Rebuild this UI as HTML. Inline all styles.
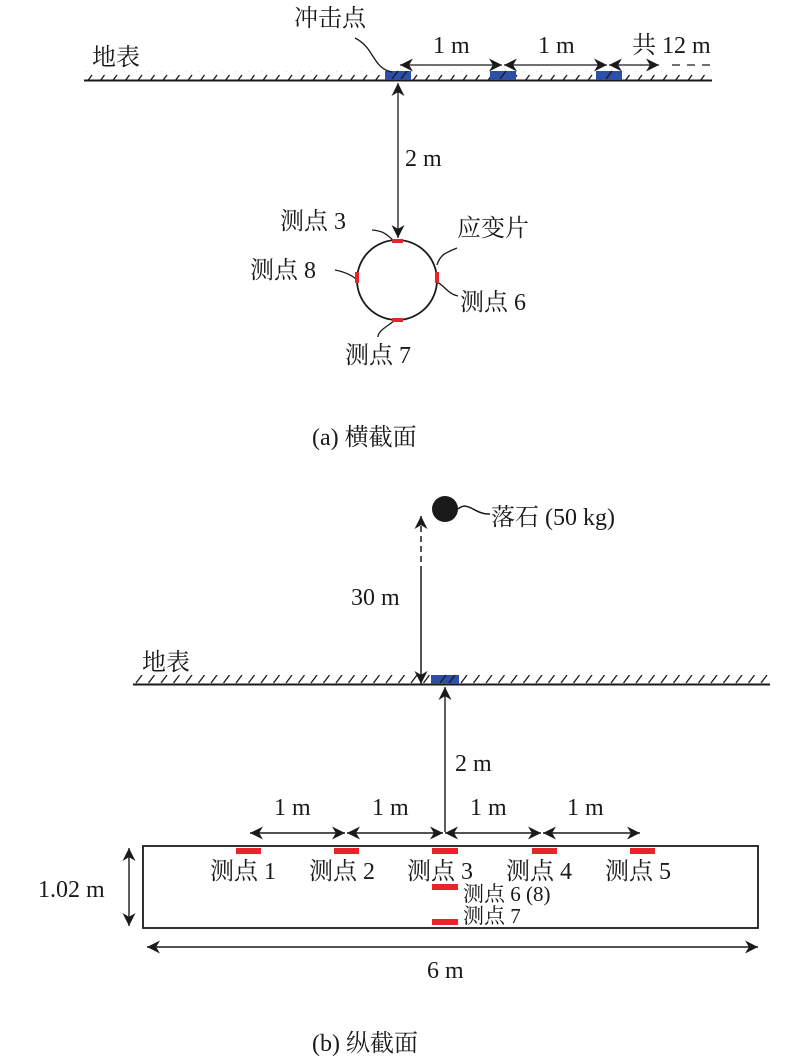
<!DOCTYPE html>
<html><head><meta charset="utf-8"><style>
html,body{margin:0;padding:0;background:#fff;}
svg{display:block;}
text{font-family:"Liberation Serif","Noto Serif CJK SC",serif;font-size:24px;fill:#1a1a1a;}
</style></head><body>
<svg width="800" height="1063" viewBox="0 0 800 1063" xmlns="http://www.w3.org/2000/svg">
<defs>
<marker id="ah" viewBox="0 0 10 10" refX="10" refY="5" markerWidth="13" markerHeight="13" orient="auto-start-reverse" markerUnits="userSpaceOnUse">
<path d="M0,0 L10,5 L0,10 L3,5 z" fill="#1a1a1a"/></marker>
<pattern id="hatch" x="84" y="0" width="12.5" height="12" patternUnits="userSpaceOnUse">
<line x1="2" y1="11" x2="8" y2="3" stroke="#1a1a1a" stroke-width="1.3"/></pattern>
</defs>
<g stroke="#1a1a1a" stroke-width="1.6" fill="none">
<rect x="84" y="71" width="628" height="9" fill="url(#hatch)" stroke="none"/>
<line x1="84" y1="80.5" x2="712" y2="80.5" stroke-width="2"/>
</g>
<rect x="385" y="71" width="26" height="9" fill="#2e4fa8"/>
<rect x="490" y="71" width="26" height="9" fill="#2e4fa8"/>
<rect x="596" y="71" width="26" height="9" fill="#2e4fa8"/>
<g stroke="#1a1a1a" stroke-width="1.3" fill="none">
<line x1="392" y1="79" x2="398" y2="71"/>
<line x1="401" y1="79" x2="407" y2="71"/>
<line x1="500" y1="79" x2="506" y2="71"/>
<line x1="606" y1="79" x2="612" y2="71"/>
<line x1="400" y1="65" x2="502" y2="65" marker-start="url(#ah)" marker-end="url(#ah)"/>
<line x1="504" y1="65" x2="607" y2="65" marker-start="url(#ah)" marker-end="url(#ah)"/>
<line x1="609" y1="65" x2="659" y2="65" marker-start="url(#ah)" marker-end="url(#ah)"/>
<line x1="672" y1="65" x2="712" y2="65" stroke-dasharray="8,7"/>
<path d="M355,38 C375,48 372,68 392,72"/>
<line x1="398" y1="83" x2="398" y2="238" marker-start="url(#ah)" marker-end="url(#ah)"/>
<circle cx="397" cy="280" r="40" stroke-width="1.8"/>
<path d="M372,230 C385,231 388,236 393,240"/>
<path d="M335,270 C345,272 352,275 357,280"/>
<path d="M457,248 C445,253 440,255 437,265"/>
<path d="M437,282 C445,286 448,294 458,296"/>
<path d="M378,337 C378,330 390,325 395,320"/>
</g>
<rect x="392" y="239" width="11" height="4" fill="#e8232a"/>
<rect x="355" y="272" width="4" height="11" fill="#e8232a"/>
<rect x="435" y="272" width="4" height="11" fill="#e8232a"/>
<rect x="392" y="318" width="11" height="4" fill="#e8232a"/>
<text x="92" y="65">地表</text>
<text x="294" y="26">冲击点</text>
<text x="433" y="53">1 m</text>
<text x="538" y="53">1 m</text>
<text x="632" y="53">共 12 m</text>
<text x="405" y="166">2 m</text>
<text x="280" y="229">测点 3</text>
<text x="457" y="236">应变片</text>
<text x="250" y="278">测点 8</text>
<text x="460" y="310">测点 6</text>
<text x="345" y="363">测点 7</text>
<text x="312" y="445">(a) 横截面</text>

<circle cx="445" cy="509" r="13" fill="#1a1a1a"/>
<g stroke="#1a1a1a" stroke-width="1.5" fill="none">
<path d="M458,509 C468,500 475,515 490,514"/>
<line x1="421" y1="516" x2="421" y2="570" stroke-dasharray="6,4" marker-start="url(#ah)"/>
<line x1="421" y1="570" x2="421" y2="684" marker-end="url(#ah)"/>
<rect x="133" y="675" width="637" height="9" fill="url(#hatch)" stroke="none"/>
<line x1="133" y1="684.5" x2="770" y2="684.5" stroke-width="2"/>
</g>
<rect x="431" y="675" width="28" height="9" fill="#2e4fa8"/>
<g stroke="#1a1a1a" stroke-width="1.4" fill="none">
<line x1="440" y1="683" x2="446" y2="675"/>
<line x1="449" y1="683" x2="455" y2="675"/>
<line x1="445" y1="687" x2="445" y2="832" marker-start="url(#ah)"/>
<line x1="250" y1="833" x2="345" y2="833" marker-start="url(#ah)" marker-end="url(#ah)"/>
<line x1="347" y1="833" x2="443" y2="833" marker-start="url(#ah)" marker-end="url(#ah)"/>
<line x1="445" y1="833" x2="541" y2="833" marker-start="url(#ah)" marker-end="url(#ah)"/>
<line x1="543" y1="833" x2="640" y2="833" marker-start="url(#ah)" marker-end="url(#ah)"/>
<rect x="143" y="846" width="615" height="82" stroke-width="1.8"/>
<line x1="129" y1="848" x2="129" y2="926" marker-start="url(#ah)" marker-end="url(#ah)"/>
<line x1="147" y1="947" x2="758" y2="947" marker-start="url(#ah)" marker-end="url(#ah)"/>
</g>
<rect x="236" y="848" width="25" height="6" fill="#e8232a"/>
<rect x="334" y="848" width="25" height="6" fill="#e8232a"/>
<rect x="432" y="848" width="26" height="6" fill="#e8232a"/>
<rect x="532" y="848" width="25" height="6" fill="#e8232a"/>
<rect x="630" y="848" width="25" height="6" fill="#e8232a"/>
<rect x="432" y="884" width="26" height="6" fill="#e8232a"/>
<rect x="432" y="919" width="26" height="6" fill="#e8232a"/>
<text x="491" y="525">落石 (50 kg)</text>
<text x="351" y="605">30 m</text>
<text x="142" y="670">地表</text>
<text x="455" y="771">2 m</text>
<text x="274" y="815">1 m</text>
<text x="372" y="815">1 m</text>
<text x="470" y="815">1 m</text>
<text x="567" y="815">1 m</text>
<text x="210" y="879">测点 1</text>
<text x="309" y="879">测点 2</text>
<text x="407" y="879">测点 3</text>
<text x="506" y="879">测点 4</text>
<text x="605" y="879">测点 5</text>
<text x="463" y="901" style="font-size:21px">测点 6 (8)</text>
<text x="463" y="923" style="font-size:21px">测点 7</text>
<text x="38" y="897">1.02 m</text>
<text x="427" y="978">6 m</text>
<text x="312" y="1051">(b) 纵截面</text>
</svg>
</body></html>
